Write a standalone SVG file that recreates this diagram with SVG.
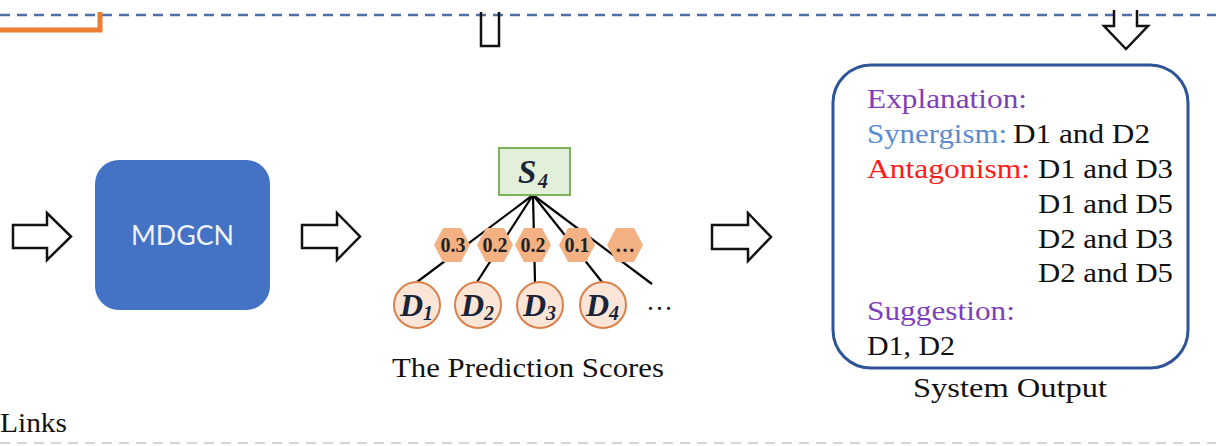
<svg xmlns="http://www.w3.org/2000/svg" width="1216" height="446" viewBox="0 0 1216 446">
  <style>
    .serif { font-family: "Liberation Serif", "Times New Roman", serif; }
    .txt { font-size: 27px; fill: #111; }
    .block { fill: none; stroke: #111; stroke-width: 2.5; stroke-linejoin: miter; }
    .hex { fill: #F4B183; stroke: none; }
    .hexlbl { font-family: "Liberation Serif", serif; font-weight: bold; font-size: 20px; fill: #222; text-anchor: middle; }
    .drug { fill: #FBE5D6; stroke: #D9804C; stroke-width: 2; }
    .dl { font-family: "Liberation Serif", serif; font-weight: bold; font-style: italic; fill: #1a2438; }
    .edge { stroke: #000; stroke-width: 2.2; }
  </style>

  <!-- section separators -->
  <line x1="0" y1="15" x2="1216" y2="15" stroke="#4F6FA8" stroke-width="2.5" stroke-dasharray="10 7"/>
  <line x1="0" y1="443" x2="1216" y2="443" stroke="#D5D5D5" stroke-width="2" stroke-dasharray="10 7"/>

  <!-- orange feedback edge -->
  <polyline points="0,30 100,30 100,12" fill="none" stroke="#ED7D31" stroke-width="5"/>

  <!-- arrow shafts entering from the section above -->
  <path class="block" d="M481,12 V46 H499 V12"/>
  <path class="block" d="M1114,10 V26 H1104 L1126,49 L1148,26 H1137 V10"/>

  <!-- flow arrows -->
  <g id="arrow-in">
    <path class="block" d="M13,225 H47 V213 L71,236.5 L47,260 V248 H13 Z"/>
  </g>
  <g id="arrow-mid">
    <path class="block" d="M302,225 H337 V213 L360,236.5 L337,260 V248 H302 Z"/>
  </g>
  <g id="arrow-out">
    <path class="block" d="M712,225 H748 V213 L771,237 L748,261 V249 H712 Z"/>
  </g>

  <!-- model block -->
  <g id="mdgcn">
    <rect x="95" y="160" width="175" height="150" rx="24" fill="#4472C4"/>
    <text x="182.5" y="245" text-anchor="middle" font-family="Lato, 'Open Sans', sans-serif" font-size="26" fill="#EEF2FA" textLength="103" lengthAdjust="spacingAndGlyphs">MDGCN</text>
  </g>

  <!-- score tree edges -->
  <g id="connectors">
    <line class="edge" x1="533" y1="195" x2="417" y2="282"/>
    <line class="edge" x1="533" y1="195" x2="477" y2="282"/>
    <line class="edge" x1="533" y1="195" x2="535" y2="282"/>
    <line class="edge" x1="533" y1="195" x2="602" y2="282"/>
    <line class="edge" x1="533" y1="195" x2="652" y2="284"/>
  </g>

  <g id="s4">
    <rect x="499" y="148" width="71" height="47" fill="#E2F0D9" stroke="#7FB05A" stroke-width="2"/>
    <text class="dl" x="518" y="183" font-size="33">S</text>
    <text class="dl" x="538" y="188" font-size="20">4</text>
  </g>

  <g id="score-1">
    <polygon class="hex" points="434,245 443,228 461,228 470,245 461,262 443,262"/>
    <text class="hexlbl" x="453" y="252">0.3</text>
  </g>
  <g id="score-2">
    <polygon class="hex" points="477,245 486,228 504,228 513,245 504,262 486,262"/>
    <text class="hexlbl" x="495" y="252">0.2</text>
  </g>
  <g id="score-3">
    <polygon class="hex" points="515,245 524,228 542,228 551,245 542,262 524,262"/>
    <text class="hexlbl" x="533" y="252">0.2</text>
  </g>
  <g id="score-4">
    <polygon class="hex" points="559,245 568,228 586,228 595,245 586,262 568,262"/>
    <text class="hexlbl" x="577" y="252">0.1</text>
  </g>
  <g id="score-more">
    <polygon class="hex" points="607,245 616,228 634,228 643,245 634,262 616,262"/>
    <text class="hexlbl" x="625" y="252">…</text>
  </g>

  <g id="drug-1">
    <circle class="drug" cx="417" cy="305" r="23"/>
    <text class="dl" x="400" y="316" font-size="32">D</text>
    <text class="dl" x="423" y="320" font-size="20">1</text>
  </g>
  <g id="drug-2">
    <circle class="drug" cx="478" cy="305" r="23"/>
    <text class="dl" x="461" y="316" font-size="32">D</text>
    <text class="dl" x="484" y="320" font-size="20">2</text>
  </g>
  <g id="drug-3">
    <circle class="drug" cx="540" cy="305" r="23"/>
    <text class="dl" x="523" y="316" font-size="32">D</text>
    <text class="dl" x="546" y="320" font-size="20">3</text>
  </g>
  <g id="drug-4">
    <circle class="drug" cx="603" cy="305" r="23"/>
    <text class="dl" x="586" y="316" font-size="32">D</text>
    <text class="dl" x="609" y="320" font-size="20">4</text>
  </g>
  <text class="serif txt" x="646" y="310">…</text>

  <text class="serif txt" x="392" y="377" textLength="272" lengthAdjust="spacingAndGlyphs">The Prediction Scores</text>

  <!-- output panel -->
  <g id="system-output">
    <rect x="833" y="65" width="355" height="303" rx="38" fill="#fff" stroke="#2F5597" stroke-width="3"/>
    <g class="serif txt">
      <text x="867" y="108" fill="#7E3FB8" textLength="160" lengthAdjust="spacingAndGlyphs">Explanation:</text>
      <text x="867" y="143" fill="#5A8AD2" textLength="140" lengthAdjust="spacingAndGlyphs">Synergism:</text>
      <text x="1013" y="143" textLength="137" lengthAdjust="spacingAndGlyphs">D1 and D2</text>
      <text x="867" y="178" fill="#FF1A1A" textLength="163" lengthAdjust="spacingAndGlyphs">Antagonism:</text>
      <text x="1038" y="178" textLength="135" lengthAdjust="spacingAndGlyphs">D1 and D3</text>
      <text x="1038" y="213" textLength="135" lengthAdjust="spacingAndGlyphs">D1 and D5</text>
      <text x="1038" y="248" textLength="135" lengthAdjust="spacingAndGlyphs">D2 and D3</text>
      <text x="1038" y="282" textLength="135" lengthAdjust="spacingAndGlyphs">D2 and D5</text>
      <text x="867" y="320" fill="#7E3FB8" textLength="148" lengthAdjust="spacingAndGlyphs">Suggestion:</text>
      <text x="867" y="355" textLength="88" lengthAdjust="spacingAndGlyphs">D1, D2</text>
    </g>
    <text class="serif txt" x="913" y="397" textLength="194" lengthAdjust="spacingAndGlyphs">System Output</text>
  </g>

  <text class="serif txt" x="0" y="432" textLength="67" lengthAdjust="spacingAndGlyphs">Links</text>
</svg>
